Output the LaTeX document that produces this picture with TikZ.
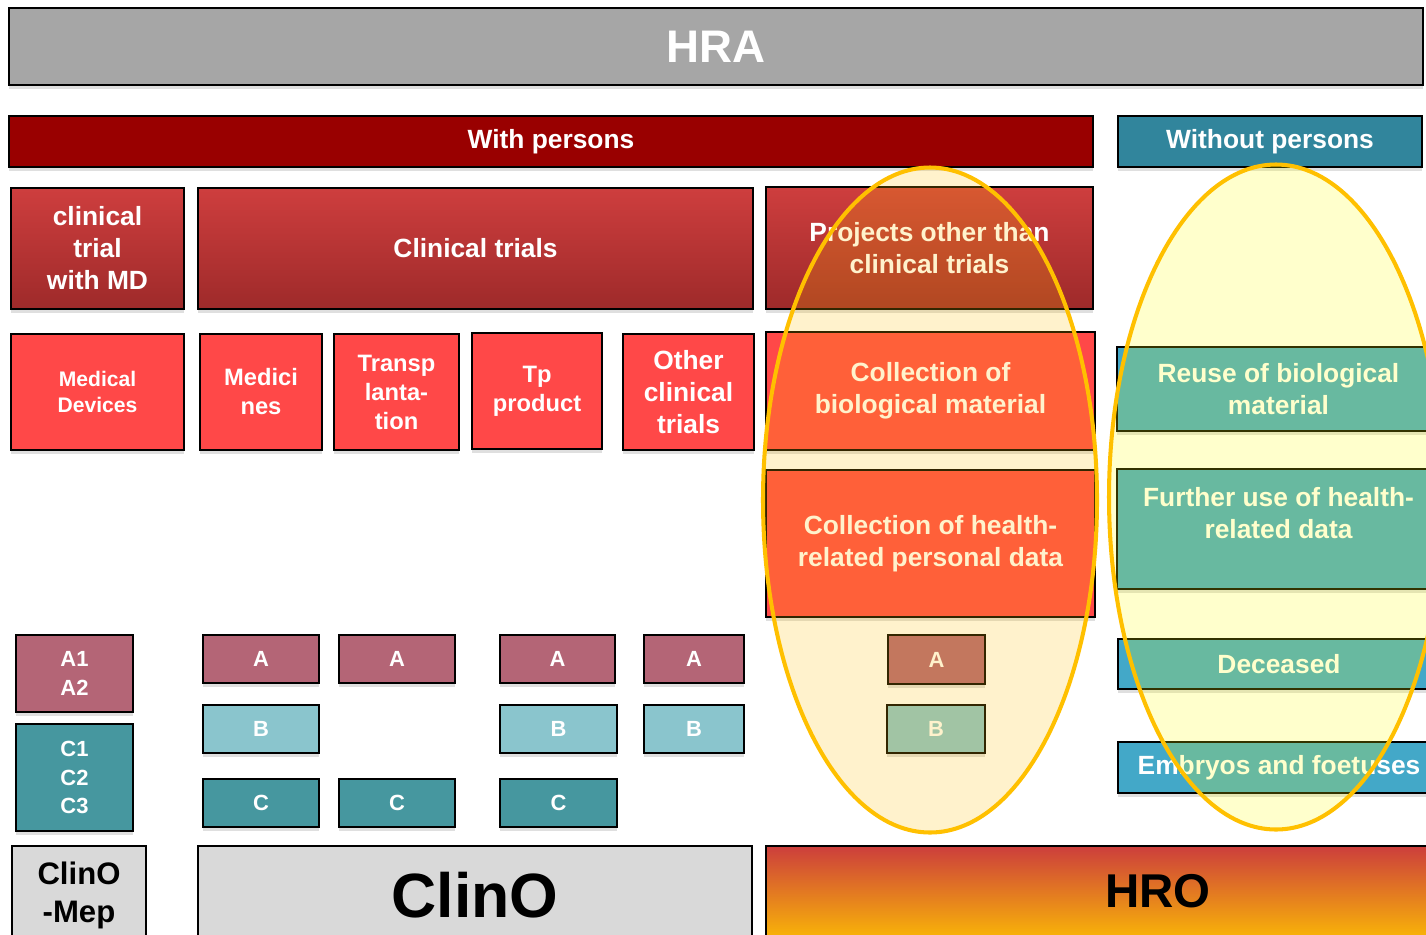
\documentclass[tikz,border=0pt]{standalone}
\usepackage{fontspec}
\setmainfont{Liberation Sans}
\usepackage{xcolor}
\usepackage{tikz}
\usetikzlibrary{positioning,shadows,shapes.geometric}
\definecolor{HraGray}{HTML}{A6A6A6}
\definecolor{WithRed}{HTML}{990000}
\definecolor{WithoutBlue}{HTML}{31859C}
\definecolor{TrialTop}{HTML}{CE3E3E}
\definecolor{TrialBottom}{HTML}{9E2A2A}
\definecolor{CaseRed}{HTML}{FF4848}
\definecolor{HumanBlue}{HTML}{43A8C8}
\definecolor{CatA}{HTML}{B46576}
\definecolor{CatB}{HTML}{8AC5CD}
\definecolor{CatC}{HTML}{46979F}
\definecolor{LawGray}{HTML}{D9D9D9}
\definecolor{HroTop}{HTML}{CC3E3C}
\definecolor{HroMid}{HTML}{E4801E}
\definecolor{HroBottom}{HTML}{FCBC04}
\definecolor{ZoneLine}{HTML}{FFC000}
\definecolor{ZoneOrange}{HTML}{FFC000}
\definecolor{ZoneYellow}{HTML}{FFFF00}
\newdimen\pxunit \pxunit=0.02cm

\tikzset{
  span/.style args={#1x#2}{minimum width=#1\pxunit, minimum height=#2\pxunit},
  base/.style={draw=black, line width=1.1pt, inner sep=0pt, align=center,
    text=white, font=\bfseries\fontsize{15}{18.2}\selectfont,
    drop shadow={shadow xshift=0pt, shadow yshift=-2pt, opacity=0.25}},
  hdrbox/.style={base, fill=HraGray, font=\bfseries\fontsize{26}{30}\selectfont},
  withbox/.style={base, fill=WithRed},
  withoutbox/.style={base, fill=WithoutBlue},
  trialbox/.style={base, top color=TrialTop, bottom color=TrialBottom},
  casebox/.style={base, fill=CaseRed},
  smallcase/.style={casebox, font=\bfseries\fontsize{13.5}{16.5}\selectfont},
  humanbox/.style={base, fill=HumanBlue},
  cat/.style={base, font=\bfseries\fontsize{12.5}{16.3}\selectfont},
  catA/.style={cat, fill=CatA},
  catB/.style={cat, fill=CatB},
  catC/.style={cat, fill=CatC},
  lawbox/.style={base, fill=LawGray, text=black},
  zone/.style={ellipse, draw=ZoneLine, line width=2.3pt, fill opacity=0.2,
    inner sep=0pt, span=334x665}
}

\begin{document}
\begin{tikzpicture}[x=0.02cm, y=-0.02cm]
  \useasboundingbox (0,0) rectangle (1426,934);
  \clip (0,0) rectangle (1426,934);
  \fill[white] (0,0) rectangle (1426,934);

  % top level
  \node[hdrbox, span=1414x77] (hra) at (716,46.5) {HRA};
  \node[withbox, span=1084x51] (with) at (551,141.5) {With persons};
  \node[withoutbox, span=304x51] (without) at (1270,141.5) {Without persons};

  % kinds of research with persons
  \node[trialbox, span=173x121] (trialmd) at (97.5,248.5) {clinical\\trial\\with MD};
  \node[trialbox, span=555x121] (trials) at (475.5,248.5) {Clinical trials};
  \node[trialbox, span=327x122] (projects) at (929.5,248) {Projects other than\\clinical trials};

  \node[casebox, font=\bfseries\fontsize{12}{14.5}\selectfont,
        span=173x116] (devices) at (97.5,392) {Medical\\Devices};
  \node[smallcase, span=122x116] (medicines) at (261,392) {Medici\\nes};
  \node[smallcase, span=125x116] (transpl) at (396.5,392) {Transp\\lanta-\\tion};
  \node[smallcase, span=130x116] (tpprod) at (537,391) {Tp\\product};
  \node[casebox, span=131x116] (others) at (688.5,392) {Other\\clinical\\trials};
  \node[casebox, span=329x118] (biocoll) at (930.5,391) {Collection of\\biological material};
  \node[casebox, span=329x147] (datacoll) at (930.5,543.5) {Collection of health-\\related personal data};

  % research without persons
  \node[humanbox, span=323x84] (reuse) at (1278.5,389) {Reuse of biological\\material};
  \node[humanbox, span=323x120] (further) at (1278.5,529) {Further use of health-\\related data\\\mbox{}};
  \node[humanbox, span=322x50] (deceased) at (1279,664) {Deceased};
  \node[humanbox, span=322x51] (embryos) at (1279,767.5) {Embryos and foetuses};

  % risk categories
  \node[catA, span=117x77] (devA) at (74.5,673.5) {A1\\A2};
  \node[catC, span=117x107] (devC) at (74.5,777.5) {C1\\C2\\C3};
  \node[catA, span=116x48] (medA) at (261,659) {A};
  \node[catB, span=116x48] (medB) at (261,729) {B};
  \node[catC, span=116x48] (medC) at (261,803) {C};
  \node[catA, span=116x48] (trA) at (397,659) {A};
  \node[catC, span=116x48] (trC) at (397,803) {C};
  \node[catA, span=115x48] (tpA) at (557.5,659) {A};
  \node[catB, span=117x48] (tpB) at (558.5,729) {B};
  \node[catC, span=117x48] (tpC) at (558.5,803) {C};
  \node[catA, span=100x48] (othA) at (694,659) {A};
  \node[catB, span=100x48] (othB) at (694,729) {B};
  \node[catA, span=97x49] (hroA) at (936.5,659.5) {A};
  \node[catB, span=98x48] (hroB) at (936,729) {B};

  % ordinances
  \node[lawbox, font=\bfseries\fontsize{17.7}{21.6}\selectfont,
        span=134x98] (mep) at (79,895) {ClinO\\-Mep};
  \node[lawbox, font=\bfseries\fontsize{35.6}{40}\selectfont,
        span=554x98] (clino) at (475,895) {ClinO};
  \node[base, text=black, top color=HroTop, middle color=HroMid, bottom color=HroBottom,
        font=\bfseries\fontsize{27}{30}\selectfont,
        span=784x98] (hro) at (1158,895) {\raisebox{8\pxunit}{HRO}};

  % HRO scope
  \node[zone, fill=ZoneOrange] (zonewith) at (930,500) {};
  \node[zone, fill=ZoneYellow] (zonewithout) at (1276,497) {};
\end{tikzpicture}
\end{document}
